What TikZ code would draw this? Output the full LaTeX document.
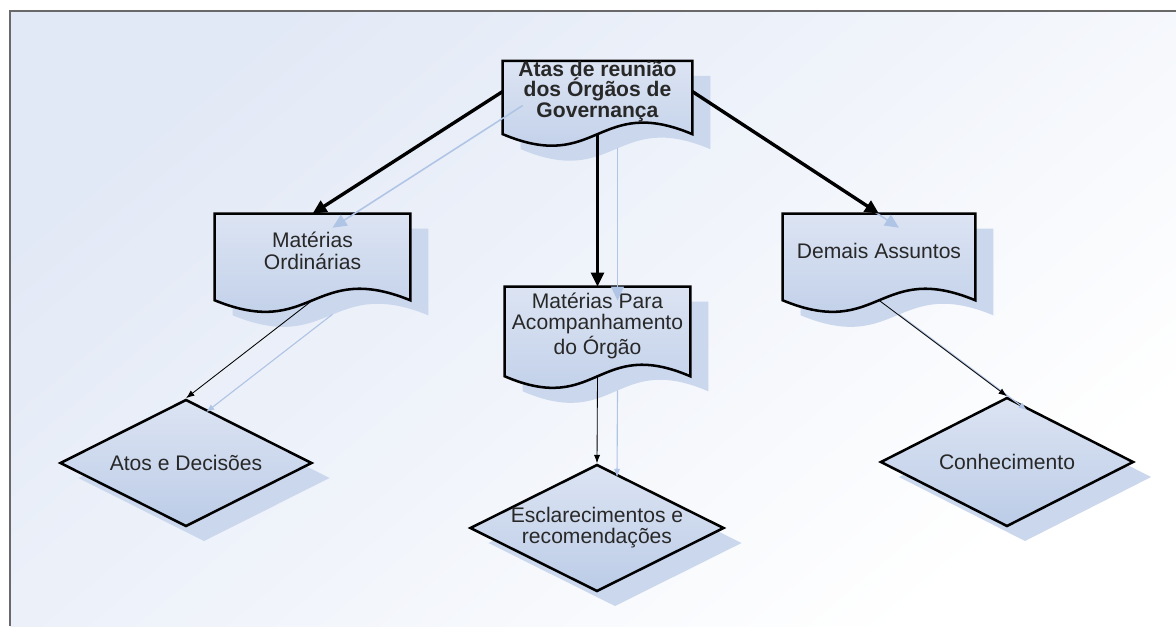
\documentclass[tikz,border=0pt]{standalone}
\usepackage{fontspec}
\setmainfont{Liberation Sans}
\usepackage{tikz}
\usetikzlibrary{shapes.geometric,arrows.meta,calc,shadows,backgrounds}
\definecolor{FlowFillA}{RGB}{220,228,243}
\definecolor{FlowFillB}{RGB}{188,204,231}
\definecolor{FlowShadow}{RGB}{202,215,237}
\definecolor{FlowLine}{RGB}{176,196,230}
\definecolor{FlowText}{RGB}{40,40,40}
\definecolor{PageTint}{RGB}{226,233,246}
\definecolor{FrameGray}{RGB}{105,105,105}

% document outline drawn round a named (text only) node, sides run 12 units below it
\newcommand{\docshape}[1]{%
  \path[docfill] (#1.north west) -- (#1.north east) -- ($(#1.south east)+(0,12)$)
    .. controls ($(#1.south)+(0,-28)$) and ($(#1.south)+(0,52)$) .. ($(#1.south west)+(0,12)$) -- cycle;}

\begin{document}
\begin{tikzpicture}[x=0.025cm,y=-0.025cm,
  docbox/.style={inner sep=0pt,align=center,text=FlowText,font=\fontsize{15}{15.5}\selectfont},
  docfill/.style={draw=black,line width=1.8pt,top color=FlowFillA,bottom color=FlowFillB,
                  drop shadow={shadow xshift=0.45cm,shadow yshift=-0.375cm,fill=FlowShadow,opacity=1}},
  decbox/.style={diamond,aspect=2,inner sep=0pt,draw=black,line width=1.8pt,align=center,
                 top color=FlowFillA,bottom color=FlowFillB,text=FlowText,font=\fontsize{15}{15}\selectfont,
                 drop shadow={shadow xshift=0.45cm,shadow yshift=-0.375cm,fill=FlowShadow,opacity=1}},
  bigarrow/.style={line width=2.4pt,-{Triangle[length=10pt,width=9pt]},
                   preaction={draw=FlowLine,line width=1.1pt,transform canvas={shift={(20,14)}}}},
  smallarrow/.style={line width=0.6pt,-{Latex[length=6pt,width=4.5pt]},
                     preaction={draw=FlowLine,line width=0.8pt,transform canvas={shift={(20,14)}}}},
]
\useasboundingbox (0,0) rectangle (1176,626);

\node[docbox,minimum width=4.725cm,minimum height=1.425cm,font=\fontsize{15}{14.6}\selectfont] (atas) at (597.5,91.5)
  {\textbf{Atas de reunião}\\\textbf{dos Órgãos de}\\\textbf{Governança}};
\node[docbox,minimum width=4.875cm,minimum height=1.85cm] (ordinarias) at (312.5,251) {Matérias\\Ordinárias};
\node[docbox,minimum width=4.625cm,minimum height=1.925cm] (acomp) at (597.5,325.5)
  {Matérias Para\\Acompanhamento\\do Órgão};
\node[docbox,minimum width=4.8cm,minimum height=1.85cm] (demais) at (879,251) {Demais Assuntos};

\begin{scope}[on background layer]
  \fill[white] (0,0) rectangle (1176,626);
  \shade[top color=PageTint,bottom color=white,shading angle=40] (10,11) rectangle (1176,626);
  \docshape{atas}
  \docshape{ordinarias}
  \docshape{acomp}
  \docshape{demais}
\end{scope}

\node[decbox,minimum width=6.3cm,minimum height=3.175cm] (atos) at (186,463) {Atos e Decisões};
\node[decbox,minimum width=6.25cm,minimum height=3.15cm] (esclar) at (597,528)
  {Esclarecimentos e\\recomendações};
\node[decbox,minimum width=6.325cm,minimum height=3.225cm] (conhec) at (1007,462) {Conhecimento};

\draw[bigarrow] (atas.west) -- (ordinarias.north);
\draw[bigarrow] ($(atas.south)+(0,12)$) -- (acomp.north);
\draw[bigarrow] (atas.east) -- (demais.north);
\draw[smallarrow] ($(ordinarias.south)+(0,12)$) -- (atos.north);
\draw[smallarrow] ($(acomp.south)+(0,12)$) -- (esclar.north);
\draw[smallarrow] ($(demais.south)+(0,12)$) -- (conhec.north);

% frame, open at right and bottom
\draw[FrameGray,line width=2.1pt] (10,626) -- (10,11) -- (1176,11);
\end{tikzpicture}
\end{document}
